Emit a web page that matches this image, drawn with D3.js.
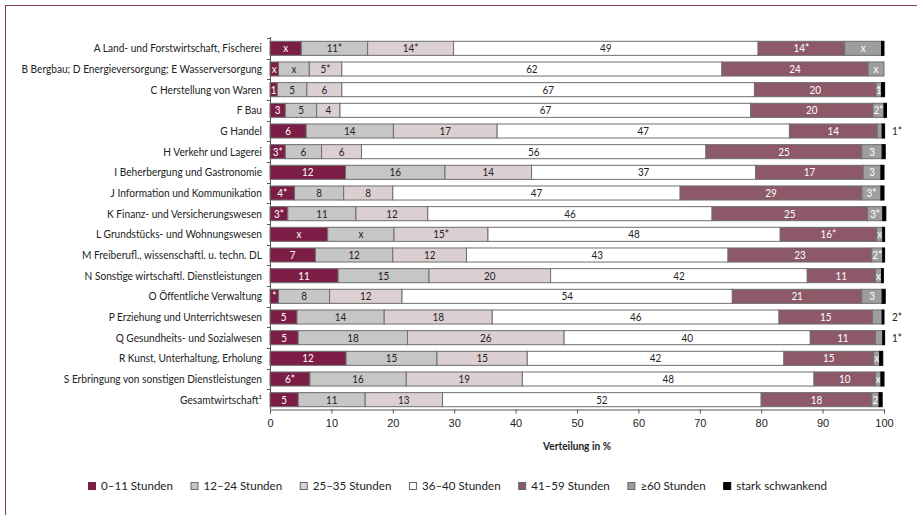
<!DOCTYPE html>
<html><head><meta charset="utf-8">
<script src="https://cdn.jsdelivr.net/npm/d3@7"></script>
<style>
body{margin:0;background:#fff;}
svg{display:block;font-family:"Source Sans Pro",Lato,sans-serif;}
</style></head>
<body><svg id="c" width="917" height="515"></svg>
<script>
const categories = [
  "A Land- und Forstwirtschaft, Fischerei",
  "B Bergbau; D Energieversorgung; E Wasserversorgung",
  "C Herstellung von Waren",
  "F Bau",
  "G Handel",
  "H Verkehr und Lagerei",
  "I Beherbergung und Gastronomie",
  "J Information und Kommunikation",
  "K Finanz- und Versicherungswesen",
  "L Grundstücks- und Wohnungswesen",
  "M Freiberufl., wissenschaftl. u. techn. DL",
  "N Sonstige wirtschaftl. Dienstleistungen",
  "O Öffentliche Verwaltung",
  "P Erziehung und Unterrichtswesen",
  "Q Gesundheits- und Sozialwesen",
  "R Kunst, Unterhaltung, Erholung",
  "S Erbringung von sonstigen Dienstleistungen",
  "Gesamtwirtschaft¹"
];
const seriesNames = ["0–11 Stunden","12–24 Stunden","25–35 Stunden","36–40 Stunden","41–59 Stunden","≥60 Stunden","stark schwankend"];
const colors = ["#7c1d46","#c6c6c6","#dccfd2","#ffffff","#8d5868","#9e9e9e","#000000"];
const textColors = ["#fff","#222","#222","#222","#fff","#fff","#fff"];

const h0_11   = [5.1,1.4,1.2,2.5,5.9,2.5,12.3,4.0,2.9,9.4,7.4,11.1,1.4,4.4,4.6,12.4,6.5,4.6];
const h12_24  = [10.8,5.0,4.8,5.1,14.2,5.9,16.2,8.0,11.1,10.8,12.6,14.8,8.3,14.2,17.8,14.8,15.7,10.9];
const h25_35  = [14.0,5.3,5.7,3.8,16.9,6.5,14.1,8.0,11.7,15.3,12.0,19.8,11.8,17.6,25.5,14.7,18.9,12.6];
const h36_40  = [49.6,61.9,67.2,66.9,47.6,56.1,36.5,46.8,46.3,47.6,42.6,41.8,53.8,46.7,40.1,41.8,47.5,51.9];
const h41_59  = [14.1,23.8,19.8,19.9,14.3,25.4,17.5,29.6,25.3,15.7,23.4,11.1,21.1,15.2,10.6,14.6,10.0,18.0];
const h60plus = [6.0,2.6,0.9,1.8,0.8,3.3,2.9,3.1,2.5,1.0,1.8,1.0,3.3,1.6,1.2,1.0,0.9,1.2];
const hVar    = [0.4,0,0.5,0.4,0.4,0.5,0.5,0.5,0.5,0.3,0.3,0.3,0.5,0.3,0.3,0.5,0.5,0.5];

const lab0_11  = ["x","x","1","3","6","3*","12","4*","3*","x","7","11","*","5","5","12","6*","5"];
const lab12_24 = ["11*","x","5","5","14","6","16","8","11","x","12","15","8","14","18","15","16","11"];
const lab25_35 = ["14*","5*","6","4","17","6","14","8","12","15*","12","20","12","18","26","15","19","13"];
const lab36_40 = ["49","62","67","67","47","56","37","47","46","48","43","42","54","46","40","42","48","52"];
const lab41_59 = ["14*","24","20","20","14","25","17","29","25","16*","23","11","21","15","11","15","10","18"];
const lab60    = ["x","x","1","2*","","3","3","3*","3*","x","2*","x","3","","","x","x","2"];
const labOut   = ["","","","","1*","","","","","","","","","2*","1*","","",""];
const xTicks = [0,10,20,30,40,50,60,70,80,90,100];
const axisTitle = "Verteilung in %";

const series = [h0_11,h12_24,h25_35,h36_40,h41_59,h60plus,hVar];
const labels = [lab0_11,lab12_24,lab25_35,lab36_40,lab41_59,lab60,null];

const svg = d3.select("#c");
svg.append("line").attr("x1",5).attr("x2",917).attr("y1",5.5).attr("y2",5.5).attr("stroke","#8a3a5c").attr("stroke-width",1);
svg.append("line").attr("x1",5.5).attr("x2",5.5).attr("y1",5).attr("y2",515).attr("stroke","#8a3a5c").attr("stroke-width",1);

const x = d3.scaleLinear().domain([0,100]).range([270,884]);
const y = d3.scaleBand().domain(categories).range([38,410]).paddingInner(0.32).paddingOuter(0.16);

const rows = categories.map((c,i)=>{
  let acc=0;
  return series.map((s,k)=>{const v=s[i]; const o={k,i,x0:acc,x1:acc+v,lab:labels[k]?labels[k][i]:""}; acc+=v; return o;});
});

svg.append("line").attr("x1",270.5).attr("x2",270.5).attr("y1",37).attr("y2",409).attr("stroke","#555");
categories.forEach((c,i)=>{
  const yy = Math.round(y(c) - y.step()*y.paddingInner()/2)+0.5;
  svg.append("line").attr("x1",267).attr("x2",270).attr("y1",yy).attr("y2",yy).attr("stroke","#555");
});

const g = svg.append("g");
const rowLabels = [];
rows.forEach((segs,i)=>{
  const yy = y(categories[i]), bh = y.bandwidth();
  segs.forEach(s=>{
    if (s.x1-s.x0<=0) return;
    g.append("rect").attr("x",x(s.x0)).attr("y",yy).attr("width",x(s.x1)-x(s.x0)).attr("height",bh)
      .attr("fill",colors[s.k]).attr("stroke",s.k===6?"#000":"#6e6e6e").attr("stroke-width",1);
    if (s.lab) {
      const cx=(x(s.x0)+x(s.x1))/2, cy=yy+bh/2;
      g.append("text").attr("transform",`translate(${cx},${cy}) scale(0.9,1)`).attr("dy","0.35em")
        .attr("text-anchor","middle").attr("font-size",11).attr("fill",textColors[s.k]).text(s.lab);
    }
  });
  if (labOut[i]) {
    g.append("text").attr("transform",`translate(${x(100)+8},${yy+bh/2}) scale(0.9,1)`).attr("dy","0.35em").attr("font-size",11).attr("fill","#222").text(labOut[i]);
  }
  rowLabels.push(svg.append("text").attr("dy","0.35em").attr("text-anchor","end")
    .attr("font-size",11.5).attr("fill","#222").attr("data-y",yy+bh/2).text(categories[i]));
});
const maxW = d3.max(rowLabels, t=>t.node().getComputedTextLength());
const fx = Math.min(1, 241/maxW);
rowLabels.forEach(t=>t.attr("transform",`translate(262,${t.attr("data-y")}) scale(${fx},1)`));

const xa = svg.append("g").attr("transform","translate(0,409.5)")
  .call(d3.axisBottom(x).tickValues(xTicks).tickSize(4).tickPadding(6).tickFormat(d3.format("d")));
xa.select(".domain").attr("stroke","#555");
xa.selectAll(".tick line").attr("stroke","#555");
xa.selectAll("text").attr("font-size",11).attr("fill","#222").attr("font-family",null);
svg.append("text").attr("transform",`translate(${x(50)},446) scale(${fx},1)`).attr("dy","0.35em").attr("text-anchor","middle")
  .attr("font-size",11.5).attr("font-weight","bold").attr("fill","#222").text(axisTitle);

// legend
let lx = 88;
let lfx = null;
seriesNames.forEach((n,k)=>{
  const lg = svg.append("g");
  lg.append("rect").attr("x",lx+0.5).attr("y",482.5).attr("width",7).attr("height",7)
    .attr("fill",colors[k]).attr("stroke",k===0?colors[0]:(k===6?"#000":"#666"));
  const t = lg.append("text").attr("dy","0.35em").attr("font-size",12).attr("fill","#222").text(n);
  const raw = t.node().getComputedTextLength();
  if (lfx===null) lfx = Math.min(1, 72/raw);
  const w = raw*lfx;
  t.attr("transform",`translate(${lx+13},486) scale(${lfx},1)`);
  lx += 13 + w + 17.5;
});
</script></body></html>
